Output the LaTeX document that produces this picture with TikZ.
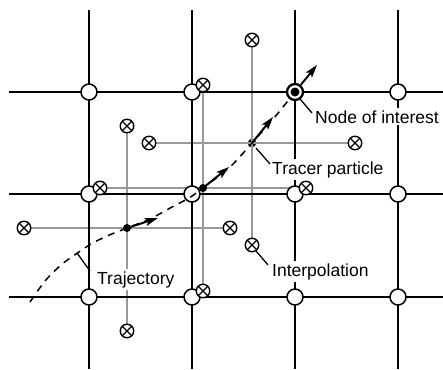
\documentclass[tikz,border=0pt]{standalone}
\usepackage{fontspec}
\setmainfont{Liberation Sans}
\usetikzlibrary{arrows.meta}
\begin{document}
\begin{tikzpicture}[x=1pt,y=-1pt,
  gridline/.style={line width=2.5pt,black},
  grayline/.style={line width=1.4pt,black!40},
  gnode/.style={circle,draw,fill=white,line width=1.5pt,minimum size=16pt,inner sep=0pt},
  interp/.style={circle,draw,fill=white,line width=1.4pt,minimum size=13.5pt,inner sep=0pt,
    path picture={\draw[line width=1.3pt] (path picture bounding box.north west) -- (path picture bounding box.south east)
      (path picture bounding box.north east) -- (path picture bounding box.south west);}},
  pdot/.style={circle,fill=black,minimum size=8pt,inner sep=0pt},
  traj/.style={line width=1.5pt,dash pattern=on 7pt off 6pt},
  arr/.style={line width=2pt,-{Stealth[length=13pt,width=8pt,inset=3pt]}},
  lead/.style={line width=1.3pt},
  lbl/.style={fill=white,inner sep=2pt,font=\fontsize{17.5}{20}\selectfont,anchor=base west}
]
\useasboundingbox (0,0) rectangle (443,369);

% particle positions
\coordinate (p1) at (127,228);
\coordinate (p2) at (203,188);
\coordinate (p3) at (252,143);

% tracer dot (under the gray lines)
\node[pdot,minimum size=8.5pt] (tr) at (p3) {};

% interpolation end points
\coordinate (aL) at (24,228);  \coordinate (aR) at (230,228);
\coordinate (aT) at (127,126); \coordinate (aB) at (127,331);
\coordinate (bL) at (100,188); \coordinate (bR) at (306,188);
\coordinate (bT) at (203,85);  \coordinate (bB) at (203,291);
\coordinate (cL) at (149,143); \coordinate (cR) at (355,143);
\coordinate (cT) at (252,40);  \coordinate (cB) at (252,245);

% gray interpolation lines
\foreach \n in {a,b,c}{
  \draw[grayline] (\n L) -- (\n R);
  \draw[grayline] (\n T) -- (\n B);
}

% grid lines
\foreach \x [count=\i] in {89,192,295,398}{
  \coordinate (vt\i) at (\x,10);
  \coordinate (vb\i) at (\x,369);
  \draw[gridline] (vt\i) -- (vb\i);
}
\foreach \y [count=\j] in {92,194,297}{
  \coordinate (hl\j) at (9,\y);
  \coordinate (hr\j) at (443,\y);
  \draw[gridline] (hl\j) -- (hr\j);
}

% grid nodes
\foreach \x [count=\i] in {89,192,295,398}{
  \foreach \y [count=\j] in {92,194,297}{
    \ifnum\i=3 \ifnum\j=1 \else \node[gnode] (n\i\j) at (\x,\y) {}; \fi
    \else \node[gnode] (n\i\j) at (\x,\y) {}; \fi
  }
}

% trajectory
\coordinate (t0) at (30,302);
\coordinate (t1) at (45,281);
\coordinate (t2) at (61,265);
\coordinate (t3) at (76,254);
\coordinate (t4) at (91,244);
\coordinate (t5) at (107,236);
\coordinate (t6) at (150,219);
\coordinate (t7) at (172,207);
\coordinate (t8) at (189,198);
\coordinate (t9) at (230,167);
\coordinate (t10) at (274,118);
\coordinate (noic) at (295,92);
\draw[traj] plot[smooth,tension=0.5] coordinates {(t0) (t1) (t2) (t3) (t4) (t5) (p1) (t6) (t7) (t8) (p2) (t9) (p3) (t10) (noic)};

% node of interest
\node[circle,draw,fill=white,line width=2.3pt,minimum size=16pt,inner sep=0pt] (noi) at (noic) {};
\node[pdot,minimum size=9pt] (noidot) at (noic) {};

% interpolation symbols
\foreach \n in {a,b,c}{
  \foreach \s in {L,R,T,B}{
    \node[interp] (i\n\s) at (\n\s) {};
  }
}

% particle dots
\node[pdot] (d1) at (p1) {};
\node[pdot] (d2) at (p2) {};

% velocity arrows
\coordinate (e1) at (158,218);
\coordinate (e2) at (229,167);
\coordinate (e3) at (273,117);
\coordinate (e4) at (317,65);
\draw[arr] (d1.center) -- (e1);
\draw[arr] (d2.center) -- (e2);
\draw[arr] (tr.center) -- (e3);
\draw[arr] (noi) -- (e4);

% labels
\node[lbl] (lnoi) at (313,123) {Node of interest};
\node[lbl] (ltr) at (270,174) {Tracer particle};
\node[lbl] (lint) at (270,276) {Interpolation};
\node[lbl] (ltraj) at (95,284) {Trajectory};

% leaders
\coordinate (k1a) at (300,99);  \coordinate (k1b) at (312,113);
\coordinate (k2a) at (256,148); \coordinate (k2b) at (270,164);
\coordinate (k3a) at (256,251); \coordinate (k3b) at (268,265);
\coordinate (k4a) at (77,253);  \coordinate (k4b) at (90,271);
\draw[lead] (k1a) -- (k1b);
\draw[lead] (k2a) -- (k2b);
\draw[lead] (k3a) -- (k3b);
\draw[lead] (k4a) -- (k4b);
\end{tikzpicture}
\end{document}
